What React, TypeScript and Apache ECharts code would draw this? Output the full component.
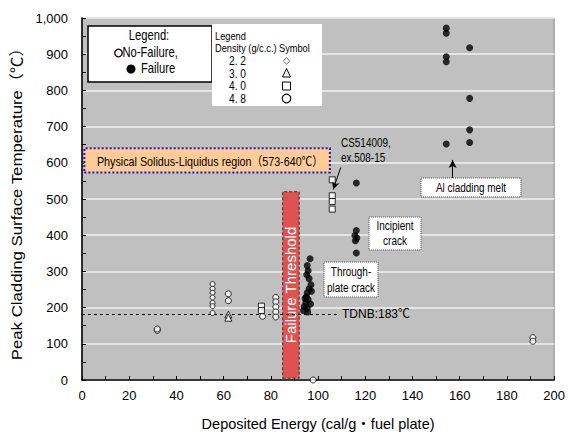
import React, { useEffect, useRef } from "react";
import * as echarts from "echarts";

// Deposited energy (cal/g·fuel plate), peak cladding surface temperature (℃)
const failurePoints: [number, number][] = [
  [96.6, 335], [95.4, 316], [95.8, 302], [95.2, 291], [96.2, 280], [97.0, 263],
  [96.2, 252], [95.4, 241], [95.0, 230], [95.8, 222], [94.8, 214], [94.1, 203],
  [95.4, 198], [93.8, 192], [95.6, 188], [96.8, 210], [97.2, 245], [94.5, 225],
  [116.2, 544], [116.2, 413], [115.6, 399], [116.4, 392], [115.8, 385], [116.2, 351],
  [154.3, 972], [154.3, 958], [154.3, 893], [154.3, 879], [154.3, 652],
  [164.2, 918], [164.2, 778], [164.2, 691], [164.2, 656],
];
const noFailureCircles: [number, number][] = [
  [31.9, 137], [31.9, 141], [62, 238], [62, 219], [76.5, 176],
  [82.1, 228], [82.1, 216], [82.1, 202], [82.1, 188], [82.1, 174],
  [97.9, 0], [191, 117], [191, 107],
];
const noFailureDensity22: [number, number][] = [
  [55.3, 265], [55.3, 252], [55.3, 241], [55.3, 228], [55.3, 213], [55.3, 204], [55.3, 185],
];
const noFailureTriangles: [number, number][] = [[62, 181], [62, 172]];
const noFailureSquares: [number, number][] = [
  [76, 204], [76, 192], [106, 553], [106, 509], [106, 493], [106, 472],
];

// Reference bands and lines
const failureThreshold = { x0: 85, x1: 92, y0: 5, y1: 520 };
const solidusLiquidus = { x0: 1, x1: 105, y0: 573, y1: 640 };
const tdnb = 183;
const xTicks = { min: 0, max: 200, interval: 20 };
const yTicks = { min: 0, max: 1000, interval: 100 };

const densityRows = ["2. 2", "3. 0", "4. 0", "4. 8"];

const FONT = "'Liberation Sans', Arial, 'Noto Sans CJK JP', sans-serif";

export default function App() {
  const ref = useRef<HTMLDivElement>(null);

  useEffect(() => {
    if (!ref.current) return;
    const chart = echarts.init(ref.current, null, { renderer: "svg" });

    const hollow = { color: "#ffffff", borderColor: "#000000", borderWidth: 1 };
    const txt = (
      x: number,
      y: number,
      text: string,
      size: number,
      align = "left",
      sx = 0.83,
      extra: any = {}
    ) => ({
      type: "text",
      x,
      y,
      scaleX: sx,
      style: {
        text,
        fill: "#000",
        font: `${size}px ${FONT}`,
        textAlign: align,
        textVerticalAlign: "middle",
        ...extra,
      },
      z: 100,
    });
    const box = (x: number, y: number, w: number, h: number) => ({
      type: "rect",
      shape: { x, y, width: w, height: h },
      style: { fill: "#ffffff", stroke: "#555", lineWidth: 1, lineDash: [1, 1] },
      z: 99,
    });
    const sym = { fill: "#fff", stroke: "#000", lineWidth: 1 };

    const legendGraphics: any[] = [
      {
        type: "rect",
        shape: { x: 88, y: 26, width: 124, height: 56 },
        style: { fill: "#fff", stroke: "#000", lineWidth: 1.5 },
        z: 99,
      },
      txt(149, 36, "Legend:", 14, "center", 0.8),
      { type: "circle", shape: { cx: 118.5, cy: 53, r: 3.8 }, style: { fill: "#fff", stroke: "#000", lineWidth: 1.3 }, z: 100 },
      txt(122.5, 53, "No-Failure,", 14, "left", 0.8),
      { type: "circle", shape: { cx: 131, cy: 69, r: 4.5 }, style: { fill: "#000" }, z: 100 },
      txt(141, 69, "Failure", 14, "left", 0.8),
      {
        type: "rect",
        shape: { x: 212, y: 24, width: 110, height: 82 },
        style: { fill: "#fff" },
        z: 99,
      },
      txt(215, 36, "Legend", 10.5, "left", 0.88),
      txt(215, 48.5, "Density (g/c.c.)", 10.5, "left", 0.88),
      txt(279, 48.5, "Symbol", 10.5, "left", 0.88),
      ...densityRows.map((r, i) => txt(229, 61 + i * 12.4, r, 12, "left", 0.85)),
      { type: "polygon", shape: { points: [[286.5, 57.5], [289.5, 61], [286.5, 64.5], [283.5, 61]] }, style: { ...sym, stroke: "#777" }, z: 100 },
      { type: "polygon", shape: { points: [[286.5, 68.5], [290.5, 77], [282.5, 77]] }, style: sym, z: 100 },
      { type: "rect", shape: { x: 282.5, y: 82, width: 8, height: 8 }, style: sym, z: 100 },
      { type: "circle", shape: { cx: 286.5, cy: 98.5, r: 4.3 }, style: { ...sym, lineWidth: 1.2 }, z: 100 },
    ];

    const annotationGraphics: any[] = [
      txt(210, 161.5, "Physical Solidus-Liquidus region（573-640℃）", 12.5, "center", 0.86),
      txt(341, 143, "CS514009,", 12),
      txt(341, 158, "ex.508-15", 12),
      box(369, 217, 52, 33),
      txt(395, 226, "Incipient", 12, "center"),
      txt(395, 241, "crack", 12, "center"),
      box(324, 262, 54, 35),
      txt(351, 272, "Through-", 12, "center"),
      txt(351, 288, "plate crack", 12, "center"),
      box(421, 178, 100, 19),
      txt(471, 188, "Al cladding melt", 12, "center"),
      // y-axis title, slightly stretched along its length
      {
        type: "text",
        x: 17,
        y: 200,
        rotation: Math.PI / 2,
        scaleX: 1.12,
        style: {
          text: "Peak Cladding Surface Temperature（℃）",
          fill: "#000",
          font: `15px ${FONT}`,
          textAlign: "center",
          textVerticalAlign: "middle",
        },
        z: 100,
      },
    ];

    chart.setOption({
      animation: false,
      textStyle: { fontFamily: FONT },
      grid: {
        left: 82,
        right: 12,
        top: 18,
        bottom: 60,
        show: true,
        backgroundColor: "#c0c0c0",
        borderColor: "#8a8a8a",
        borderWidth: 1,
      },
      xAxis: {
        type: "value",
        ...xTicks,
        name: "Deposited Energy (cal/g・fuel plate)",
        nameLocation: "middle",
        nameGap: 37,
        nameTextStyle: { fontSize: 14.5, color: "#000", fontFamily: FONT },
        axisLine: { lineStyle: { color: "#000", width: 1.5 } },
        axisTick: { inside: true, length: 4, lineStyle: { color: "#000" } },
        minorTick: { show: true, splitNumber: 2, length: 4, lineStyle: { color: "#000" } },
        axisLabel: { fontSize: 13, color: "#000", margin: 9, fontFamily: FONT },
        splitLine: { show: false },
      },
      yAxis: {
        type: "value",
        ...yTicks,
        axisLine: { show: true, lineStyle: { color: "#000", width: 1.5 } },
        axisTick: { show: true, inside: true, length: 4, lineStyle: { color: "#000" } },
        minorTick: { show: true, splitNumber: 2, length: 4, lineStyle: { color: "#000" } },
        axisLabel: {
          fontSize: 13,
          color: "#000",
          margin: 14,
          fontFamily: FONT,
          formatter: (v: number) => v.toLocaleString("en-US"),
        },
        splitLine: { show: true, lineStyle: { color: "#f2f2f2", width: 1.5 } },
      },
      series: [
        {
          name: "bands",
          type: "scatter",
          data: [],
          silent: true,
          markArea: {
            silent: true,
            data: [
              [
                {
                  coord: [solidusLiquidus.x0, solidusLiquidus.y0],
                  itemStyle: {
                    color: "#ffcc99",
                    borderColor: "#1c1ca8",
                    borderWidth: 2,
                    borderType: [2, 2],
                  },
                  label: { show: false },
                },
                { coord: [solidusLiquidus.x1, solidusLiquidus.y1] },
              ],
              [
                {
                  coord: [failureThreshold.x0, failureThreshold.y0],
                  itemStyle: {
                    color: "#e05252",
                    borderColor: "#333",
                    borderWidth: 1,
                    borderType: [3, 2],
                  },
                  label: {
                    show: true,
                    position: "inside",
                    rotate: 90,
                    formatter: "Failure Threshold",
                    color: "#fff",
                    fontSize: 15,
                    fontFamily: FONT,
                  },
                },
                { coord: [failureThreshold.x1, failureThreshold.y1] },
              ],
            ],
          },
          markLine: {
            silent: true,
            symbol: ["none", "none"],
            data: [
              [
                {
                  coord: [0, tdnb],
                  lineStyle: { color: "#000", type: [3, 3], width: 1 },
                  label: {
                    show: true,
                    position: "end",
                    formatter: "TDNB:183℃",
                    color: "#000",
                    fontSize: 12,
                    fontFamily: FONT,
                    distance: 5,
                  },
                },
                { coord: [108, tdnb] },
              ],
            ],
          },
        },
        {
          name: "arrows",
          type: "scatter",
          data: [],
          silent: true,
          markLine: {
            silent: true,
            symbol: ["none", "arrow"],
            symbolSize: [6, 8],
            lineStyle: { color: "#000", type: "solid", width: 1 },
            label: { show: false },
            data: [
              [{ coord: [109.6, 587] }, { coord: [106.4, 526] }],
              [{ coord: [157, 557] }, { coord: [157, 608] }],
            ],
          },
        },
        {
          name: "Failure",
          type: "scatter",
          symbol: "circle",
          symbolSize: 7,
          itemStyle: { color: "#000" },
          data: failurePoints,
          z: 5,
        },
        {
          name: "No-Failure 4.8",
          type: "scatter",
          symbol: "circle",
          symbolSize: 6,
          itemStyle: hollow,
          data: noFailureCircles,
          z: 5,
        },
        {
          name: "No-Failure 2.2",
          type: "scatter",
          symbol: "circle",
          symbolSize: 5,
          itemStyle: hollow,
          data: noFailureDensity22,
          z: 5,
        },
        {
          name: "No-Failure 3.0",
          type: "scatter",
          symbol: "triangle",
          symbolSize: 7,
          itemStyle: hollow,
          data: noFailureTriangles,
          z: 5,
        },
        {
          name: "No-Failure 4.0",
          type: "scatter",
          symbol: "rect",
          symbolSize: 6,
          itemStyle: hollow,
          data: noFailureSquares,
          z: 5,
        },
      ],
      graphic: [...legendGraphics, ...annotationGraphics],
    });

    return () => chart.dispose();
  }, []);

  return (
    <div
      ref={ref}
      style={{ position: "absolute", left: 0, top: 0, width: 568, height: 440 }}
    />
  );
}
